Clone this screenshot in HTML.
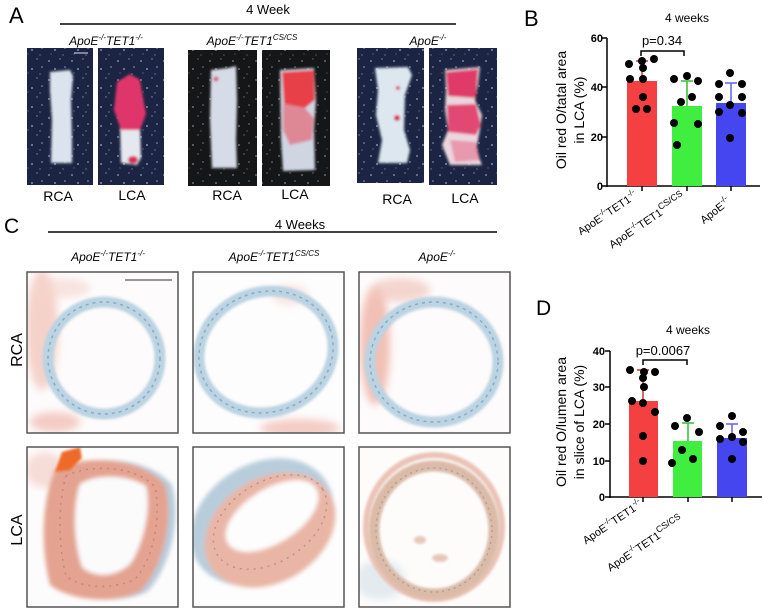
<!DOCTYPE html>
<html><head><meta charset="utf-8"><style>
html,body{margin:0;padding:0;background:#fff;}
svg{display:block;}
text{font-family:"Liberation Sans",Arial,sans-serif;}
</style></head><body>
<svg width="763" height="609" viewBox="0 0 763 609" xmlns="http://www.w3.org/2000/svg">
<defs>
<pattern id="spk" width="23" height="19" patternUnits="userSpaceOnUse">
<circle cx="3" cy="4" r="0.9" fill="#c8d4ea" opacity="0.7"/>
<circle cx="14" cy="2" r="0.7" fill="#c8d4ea" opacity="0.6"/>
<circle cx="9" cy="12" r="1" fill="#c8d4ea" opacity="0.6"/>
<circle cx="19" cy="10" r="0.8" fill="#c8d4ea" opacity="0.7"/>
<circle cx="17" cy="17" r="0.7" fill="#c8d4ea" opacity="0.5"/>
<circle cx="5" cy="16" r="0.6" fill="#c8d4ea" opacity="0.5"/>
</pattern>
<filter id="bl"><feGaussianBlur stdDeviation="1.2"/></filter>
<filter id="bl2"><feGaussianBlur stdDeviation="2.2"/></filter>
<filter id="bl3"><feGaussianBlur stdDeviation="4"/></filter>
<clipPath id="c1"><rect x="27" y="272" width="151" height="161"/></clipPath>
<clipPath id="c2"><rect x="193" y="272" width="151" height="161"/></clipPath>
<clipPath id="c3"><rect x="359" y="272" width="151" height="161"/></clipPath>
<clipPath id="c4"><rect x="27" y="447" width="151" height="160"/></clipPath>
<clipPath id="c5"><rect x="193" y="447" width="151" height="160"/></clipPath>
<clipPath id="c6"><rect x="359" y="447" width="151" height="160"/></clipPath>
</defs>

<!-- ===== Panel A ===== -->
<text x="9" y="23" font-size="22">A</text>
<text x="268" y="14" font-size="13" text-anchor="middle">4 Week</text>
<line x1="60" y1="24" x2="456" y2="24" stroke="#000" stroke-width="1.5"/>
<text x="106" y="45" font-size="12" font-style="italic" text-anchor="middle">ApoE<tspan font-size="8" dy="-5">-/-</tspan><tspan dy="5">TET1</tspan><tspan font-size="8" dy="-5">-/-</tspan></text>
<text x="252" y="45" font-size="12" font-style="italic" text-anchor="middle">ApoE<tspan font-size="8" dy="-5">-/-</tspan><tspan dy="5">TET1</tspan><tspan font-size="8" dy="-5">CS/CS</tspan></text>
<text x="428" y="45" font-size="12" font-style="italic" text-anchor="middle">ApoE<tspan font-size="8" dy="-5">-/-</tspan></text>

<rect x="27" y="48" width="66" height="137" fill="#1b2543"/>
<rect x="27" y="48" width="66" height="137" fill="url(#spk)"/>
<rect x="98" y="48" width="66" height="137" fill="#1b2543"/>
<rect x="98" y="48" width="66" height="137" fill="url(#spk)"/>
<rect x="188" y="50" width="69" height="136" fill="#151617"/>
<rect x="188" y="50" width="69" height="136" fill="url(#spk)" opacity="0.8"/>
<rect x="262" y="50" width="68" height="136" fill="#151617"/>
<rect x="262" y="50" width="68" height="136" fill="url(#spk)" opacity="0.8"/>
<rect x="357" y="48" width="67" height="135" fill="#1b2543"/>
<rect x="357" y="48" width="67" height="135" fill="url(#spk)"/>
<rect x="429" y="48" width="68" height="137" fill="#1b2543"/>
<rect x="429" y="48" width="68" height="137" fill="url(#spk)"/>
<line x1="74" y1="53" x2="88" y2="53" stroke="#dde" stroke-width="1"/>

<g filter="url(#bl)">
<polygon points="50,72 70,70 73,76 71,100 72,140 72,163 51,163 52,120 50,90" fill="#dbe4ee"/>
<polygon points="120,125 140,125 141,158 137,165 121,163" fill="#e6e8ef"/>
<polygon points="117,82 130,74 140,80 143,98 146,114 140,130 121,130 114,110" fill="#e0356a"/>
<ellipse cx="133" cy="160" rx="5" ry="4" fill="#d82a5a"/>
<polygon points="211,70 228,68 236,66 237,100 236,140 237,168 212,168 210,120" fill="#d5dce7"/>
<circle cx="216" cy="79" r="2.5" fill="#e05070"/>
<polygon points="280,70 314,68 316,100 314,130 315,170 283,171 281,140" fill="#cfd6e2"/>
<polygon points="282,72 314,70 315,100 305,108 284,104" fill="#e8404a"/>
<polygon points="283,104 305,108 314,118 312,140 290,145 283,130" fill="#e07a88" opacity="0.85"/>
<polygon points="375,68 408,67 412,75 405,95 404,130 410,150 407,163 378,163 382,140 376,115 378,90" fill="#dde7f0"/>
<circle cx="398" cy="88" r="2" fill="#d8204a"/>
<circle cx="397" cy="118" r="3" fill="#d8204a"/>
<polygon points="445,70 480,67 478,85 475,100 482,115 480,130 476,150 482,165 450,165 442,145 448,130 445,110 446,90" fill="#ead6de"/>
<polygon points="446,72 478,69 476,98 448,96" fill="#e03a68"/>
<polygon points="447,105 476,104 481,125 476,135 448,132" fill="#e24a72"/>
<polygon points="450,140 476,142 480,160 455,162" fill="#e88aa0" opacity="0.8"/>
</g>

<text x="58" y="201" font-size="14" text-anchor="middle">RCA</text>
<text x="132" y="200" font-size="14" text-anchor="middle">LCA</text>
<text x="227" y="200" font-size="14" text-anchor="middle">RCA</text>
<text x="295" y="199" font-size="14" text-anchor="middle">LCA</text>
<text x="397" y="204" font-size="14" text-anchor="middle">RCA</text>
<text x="465" y="203" font-size="14" text-anchor="middle">LCA</text>

<!-- ===== Panel B ===== -->
<text x="524" y="26" font-size="22">B</text>
<text x="687" y="22" font-size="12" text-anchor="middle">4 weeks</text>
<text x="662" y="45" font-size="13" text-anchor="middle">p=0.34</text>
<polyline points="641,56 641,51 684,51 684,56" fill="none" stroke="#000" stroke-width="1.5"/>
<g transform="translate(566,110) rotate(-90)"><text x="0" y="0" font-size="14" text-anchor="middle">Oil red O/tatal area</text></g>
<g transform="translate(584,110) rotate(-90)"><text x="0" y="0" font-size="14" text-anchor="middle">in LCA (%)</text></g>
<g font-size="11" font-weight="bold" text-anchor="end">
<text x="603" y="42">60</text><text x="603" y="91">40</text><text x="603" y="141">20</text><text x="603" y="190">0</text>
</g>
<g stroke="#000" stroke-width="1.5">
<line x1="607" y1="38" x2="607" y2="187"/>
<line x1="606" y1="186" x2="760" y2="186"/>
<line x1="602" y1="38" x2="607" y2="38"/><line x1="602" y1="87" x2="607" y2="87"/>
<line x1="602" y1="137" x2="607" y2="137"/><line x1="602" y1="186" x2="607" y2="186"/>
<line x1="642" y1="186" x2="642" y2="191"/><line x1="687" y1="186" x2="687" y2="191"/><line x1="731" y1="186" x2="731" y2="191"/>
</g>
<rect x="627" y="81" width="30" height="105" fill="#f44040"/>
<rect x="672" y="106" width="30" height="80" fill="#40ee40"/>
<rect x="716" y="103" width="30" height="83" fill="#4646f0"/>
<g stroke-width="1.5">
<line x1="642" y1="81" x2="642" y2="61" stroke="#d03030"/><line x1="636" y1="61" x2="648" y2="61" stroke="#d03030"/>
<line x1="687" y1="106" x2="687" y2="81" stroke="#30c030"/><line x1="681" y1="81" x2="693" y2="81" stroke="#30c030"/>
<line x1="731" y1="103" x2="731" y2="83" stroke="#6060f0"/><line x1="725" y1="83" x2="737" y2="83" stroke="#6060f0"/>
</g>
<g fill="#000">
<circle cx="629" cy="64" r="4"/><circle cx="642" cy="61" r="4"/><circle cx="654" cy="59" r="4"/><circle cx="643" cy="68" r="4"/><circle cx="630" cy="79" r="4"/><circle cx="643" cy="79" r="4"/><circle cx="643" cy="97" r="4"/><circle cx="636" cy="109" r="4"/><circle cx="647" cy="109" r="4"/>
<circle cx="674" cy="79" r="4"/><circle cx="687" cy="76" r="4"/><circle cx="698" cy="81" r="4"/><circle cx="681" cy="102" r="4"/><circle cx="692" cy="97" r="4"/><circle cx="674" cy="123" r="4"/><circle cx="698" cy="124" r="4"/><circle cx="677" cy="145" r="4"/>
<circle cx="730" cy="73" r="4"/><circle cx="719" cy="84" r="4"/><circle cx="742" cy="84" r="4"/><circle cx="719" cy="97" r="4"/><circle cx="742" cy="97" r="4"/><circle cx="730" cy="105" r="4"/><circle cx="719" cy="112" r="4"/><circle cx="742" cy="113" r="4"/><circle cx="730" cy="138" r="4"/>
</g>
<g font-size="11" text-anchor="end">
<text transform="translate(638,197) rotate(-34)">ApoE<tspan font-size="8" dy="-5">-/-</tspan><tspan dy="5">TET1</tspan><tspan font-size="8" dy="-5">-/-</tspan></text>
<text transform="translate(686,199) rotate(-34)">ApoE<tspan font-size="8" dy="-5">-/-</tspan><tspan dy="5">TET1</tspan><tspan font-size="9" dy="-5">CS/CS</tspan></text>
<text transform="translate(731,203) rotate(-38)">ApoE<tspan font-size="8" dy="-5">-/-</tspan></text>
</g>

<!-- ===== Panel C ===== -->
<text x="4" y="233" font-size="21">C</text>
<text x="300" y="229" font-size="13" text-anchor="middle">4 Weeks</text>
<line x1="48" y1="232" x2="497" y2="232" stroke="#000" stroke-width="1.5"/>
<text x="108" y="261" font-size="12" font-style="italic" text-anchor="middle">ApoE<tspan font-size="8" dy="-5">-/-</tspan><tspan dy="5">TET1</tspan><tspan font-size="8" dy="-5">-/-</tspan></text>
<text x="274" y="261" font-size="12" font-style="italic" text-anchor="middle">ApoE<tspan font-size="8" dy="-5">-/-</tspan><tspan dy="5">TET1</tspan><tspan font-size="8" dy="-5">CS/CS</tspan></text>
<text x="437" y="261" font-size="12" font-style="italic" text-anchor="middle">ApoE<tspan font-size="8" dy="-5">-/-</tspan></text>
<g transform="translate(22,350) rotate(-90)"><text x="0" y="0" font-size="16" text-anchor="middle">RCA</text></g>
<g transform="translate(22,530) rotate(-90)"><text x="0" y="0" font-size="16" text-anchor="middle">LCA</text></g>

<!-- RCA box 1 -->
<g clip-path="url(#c1)">
<rect x="27" y="272" width="151" height="161" fill="#fdfbfb"/>
<g filter="url(#bl3)">
<ellipse cx="42" cy="330" rx="16" ry="60" fill="#f2c4ba" opacity="0.75"/>
<ellipse cx="55" cy="422" rx="25" ry="10" fill="#f0bcb2" opacity="0.75"/>
<ellipse cx="60" cy="288" rx="30" ry="10" fill="#f5d3cc" opacity="0.6"/>
</g>
<ellipse cx="104" cy="358" rx="56" ry="56" fill="none" stroke="#bcd3e2" stroke-width="11" filter="url(#bl)"/>
<ellipse cx="104" cy="358" rx="56" ry="56" fill="none" stroke="#86adc6" stroke-width="1.5" stroke-dasharray="3 4"/>
<line x1="125" y1="280" x2="172" y2="280" stroke="#333" stroke-width="1"/>
</g>
<rect x="27" y="272" width="151" height="161" fill="none" stroke="#555" stroke-width="1.5"/>

<!-- RCA box 2 -->
<g clip-path="url(#c2)">
<rect x="193" y="272" width="151" height="161" fill="#fdfdfd"/>
<g filter="url(#bl3)">
<ellipse cx="290" cy="295" rx="18" ry="10" fill="#f5d6d0" opacity="0.6"/>
<ellipse cx="300" cy="428" rx="40" ry="9" fill="#f0bcb2" opacity="0.75"/>
</g>
<ellipse cx="266" cy="352" rx="68" ry="60" transform="rotate(-20 266 352)" fill="none" stroke="#bcd3e2" stroke-width="11" filter="url(#bl)"/>
<ellipse cx="266" cy="352" rx="68" ry="60" transform="rotate(-20 266 352)" fill="none" stroke="#86adc6" stroke-width="1.5" stroke-dasharray="3 4"/>
</g>
<rect x="193" y="272" width="151" height="161" fill="none" stroke="#555" stroke-width="1.5"/>

<!-- RCA box 3 -->
<g clip-path="url(#c3)">
<rect x="359" y="272" width="151" height="161" fill="#fdfbfb"/>
<g filter="url(#bl3)">
<ellipse cx="375" cy="345" rx="15" ry="60" fill="#efb2a4" opacity="0.8"/>
<ellipse cx="400" cy="290" rx="30" ry="12" fill="#f2c8bf" opacity="0.75"/>
</g>
<ellipse cx="434" cy="362" rx="64" ry="60" fill="none" stroke="#bcd3e2" stroke-width="11" filter="url(#bl)"/>
<ellipse cx="434" cy="362" rx="64" ry="60" fill="none" stroke="#86adc6" stroke-width="1.5" stroke-dasharray="3 4"/>
</g>
<rect x="359" y="272" width="151" height="161" fill="none" stroke="#555" stroke-width="1.5"/>

<!-- LCA box 1 -->
<g clip-path="url(#c4)">
<rect x="27" y="447" width="151" height="160" fill="#fdfcfc"/>
<g filter="url(#bl3)"><ellipse cx="45" cy="470" rx="20" ry="18" fill="#f3d0c8" opacity="0.7"/></g>
<g filter="url(#bl2)">
<path d="M62,470 C87,455 147,455 172,485 C182,520 169,570 147,592 C117,605 77,600 57,585 C47,545 49,500 62,470 Z" fill="#b8ccdc"/>
<path d="M55,470 C80,455 140,455 165,485 C175,520 162,570 140,592 C110,605 70,600 50,585 C40,545 42,500 55,470 Z" fill="#e3a390"/>
<path d="M80,484 C98,473 128,475 146,486 C151,506 145,540 131,563 C117,577 95,579 82,567 C73,540 73,505 80,484 Z" fill="#fbfbfc"/>
</g>
<path d="M66,476 C88,464 136,465 155,487 C162,520 152,562 134,580 C110,590 80,588 66,576 C58,545 58,502 66,476 Z" fill="none" stroke="#a86a6a" stroke-width="1.5" stroke-dasharray="2 5" opacity="0.5"/>
<path d="M62,452 L80,447 L82,458 L70,470 L55,472 Z" fill="#ee6a2a" filter="url(#bl)"/>
</g>
<rect x="27" y="447" width="151" height="160" fill="none" stroke="#555" stroke-width="1.5"/>

<!-- LCA box 2 -->
<g clip-path="url(#c5)">
<rect x="193" y="447" width="151" height="160" fill="#fdfdfd"/>
<g filter="url(#bl2)">
<ellipse cx="262" cy="522" rx="76" ry="58" transform="rotate(-32 262 522)" fill="#b8cddc"/>
<ellipse cx="270" cy="530" rx="70" ry="52" transform="rotate(-32 270 530)" fill="#e9b6a6"/>
<ellipse cx="272" cy="516" rx="52" ry="27" transform="rotate(-32 272 516)" fill="#fdfdfd"/>
</g>
<ellipse cx="270" cy="522" rx="62" ry="40" transform="rotate(-32 270 522)" fill="none" stroke="#8a6f7c" stroke-width="1.5" stroke-dasharray="2 5" opacity="0.5"/>
</g>
<rect x="193" y="447" width="151" height="160" fill="none" stroke="#555" stroke-width="1.5"/>

<!-- LCA box 3 -->
<g clip-path="url(#c6)">
<rect x="359" y="447" width="151" height="160" fill="#fdfcfb"/>
<g filter="url(#bl3)"><ellipse cx="380" cy="580" rx="25" ry="20" fill="#d2dfe8" opacity="0.6"/></g>
<ellipse cx="434" cy="527" rx="68" ry="72" fill="none" stroke="#ebc2b6" stroke-width="6" filter="url(#bl)"/>
<ellipse cx="434" cy="530" rx="60" ry="64" fill="none" stroke="#dbbba8" stroke-width="11" filter="url(#bl)"/>
<ellipse cx="434" cy="530" rx="58" ry="62" fill="none" stroke="#7d8c8c" stroke-width="1.5" stroke-dasharray="2 4" opacity="0.5"/>
<g filter="url(#bl)"><ellipse cx="420" cy="540" rx="6" ry="4" fill="#e6c8ba"/><ellipse cx="440" cy="558" rx="8" ry="4" fill="#e6c8ba"/></g>
</g>
<rect x="359" y="447" width="151" height="160" fill="none" stroke="#555" stroke-width="1.5"/>

<!-- ===== Panel D ===== -->
<text x="536" y="315" font-size="21">D</text>
<text x="688" y="334" font-size="12" text-anchor="middle">4 weeks</text>
<text x="663" y="355" font-size="13" text-anchor="middle">p=0.0067</text>
<polyline points="643,365 643,360 687,360 687,365" fill="none" stroke="#000" stroke-width="1.5"/>
<g transform="translate(566,422) rotate(-90)"><text x="0" y="0" font-size="14" text-anchor="middle">Oil red O/lumen area</text></g>
<g transform="translate(584,422) rotate(-90)"><text x="0" y="0" font-size="14" text-anchor="middle">in slice of LCA (%)</text></g>
<g font-size="11" font-weight="bold" text-anchor="end">
<text x="605" y="355">40</text><text x="605" y="391">30</text><text x="605" y="428">20</text><text x="605" y="465">10</text><text x="605" y="501">0</text>
</g>
<g stroke="#000" stroke-width="1.5">
<line x1="610" y1="351" x2="610" y2="498"/>
<line x1="609" y1="497" x2="762" y2="497"/>
<line x1="605" y1="351" x2="610" y2="351"/><line x1="605" y1="387" x2="610" y2="387"/>
<line x1="605" y1="424" x2="610" y2="424"/><line x1="605" y1="461" x2="610" y2="461"/><line x1="605" y1="497" x2="610" y2="497"/>
<line x1="643" y1="497" x2="643" y2="502"/><line x1="688" y1="497" x2="688" y2="502"/><line x1="732" y1="497" x2="732" y2="502"/>
</g>
<rect x="629" y="401" width="29" height="96" fill="#f44040"/>
<rect x="673" y="441" width="29" height="56" fill="#40ee40"/>
<rect x="717" y="438" width="30" height="59" fill="#4646f0"/>
<g stroke-width="1.5">
<line x1="643" y1="401" x2="643" y2="370" stroke="#d03030"/><line x1="637" y1="370" x2="649" y2="370" stroke="#d03030"/>
<line x1="688" y1="441" x2="688" y2="423" stroke="#30c030"/><line x1="682" y1="423" x2="694" y2="423" stroke="#30c030"/>
<line x1="732" y1="438" x2="732" y2="424" stroke="#6060f0"/><line x1="726" y1="424" x2="738" y2="424" stroke="#6060f0"/>
</g>
<g fill="#000">
<circle cx="630" cy="370" r="4"/><circle cx="644" cy="372" r="4"/><circle cx="655" cy="372" r="4"/><circle cx="643" cy="378" r="4"/><circle cx="644" cy="387" r="4"/><circle cx="632" cy="401" r="4"/><circle cx="643" cy="403" r="4"/><circle cx="655" cy="412" r="4"/><circle cx="643" cy="436" r="4"/><circle cx="643" cy="461" r="4"/>
<circle cx="675" cy="426" r="4"/><circle cx="687" cy="418" r="4"/><circle cx="699" cy="432" r="4"/><circle cx="682" cy="450" r="4"/><circle cx="672" cy="463" r="4"/><circle cx="693" cy="459" r="4"/>
<circle cx="732" cy="416" r="4"/><circle cx="720" cy="426" r="4"/><circle cx="743" cy="432" r="4"/><circle cx="720" cy="439" r="4"/><circle cx="732" cy="437" r="4"/><circle cx="743" cy="442" r="4"/><circle cx="732" cy="459" r="4"/>
</g>
<g font-size="11" text-anchor="end">
<text transform="translate(643,506) rotate(-34)">ApoE<tspan font-size="8" dy="-5">-/-</tspan><tspan dy="5">TET1</tspan><tspan font-size="8" dy="-5">-/-</tspan></text>
<text transform="translate(684,522) rotate(-34)">ApoE<tspan font-size="8" dy="-5">-/-</tspan><tspan dy="5">TET1</tspan><tspan font-size="9" dy="-5">CS/CS</tspan></text>
</g>
</svg>
</body></html>
